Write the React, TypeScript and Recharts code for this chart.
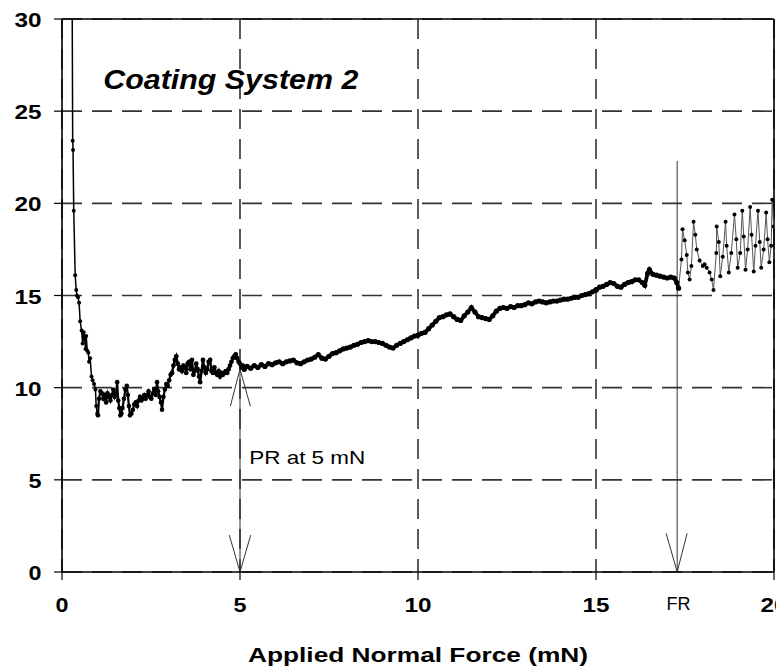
import React from 'react';
import { LineChart, Line, XAxis, YAxis, CartesianGrid, ReferenceLine, ReferenceDot } from 'recharts';

type Pt = [number, number];

const xTicks = [0, 5, 10, 15, 20];
const yTicks = [0, 5, 10, 15, 20, 25, 30];

const chartTitle = 'Coating System 2';
const xAxisTitle = 'Applied Normal Force (mN)';
const prLabel = 'PR at 5 mN';
const frLabel = 'FR';
const prForce = 5;
const prTop = 11.0;
const frForce = 17.28;
const frTop = 22.3;

const seriesRunIn: Pt[] = [
  [0.28, 34], [0.30, 23.4], [0.31, 22.9], [0.33, 19.6], [0.37, 16.1], [0.40, 15.3], [0.42, 15.0],
  [0.45, 14.9], [0.48, 14.6], [0.51, 13.6], [0.55, 13.1], [0.58, 12.4], [0.61, 13.0], [0.64, 12.6],
  [0.66, 12.1], [0.68, 12.8], [0.71, 12.0], [0.74, 11.9], [0.76, 11.4], [0.79, 11.6], [0.83, 10.6],
  [0.86, 10.4], [0.90, 10.2], [0.94, 9.9], [0.96, 9.0], [0.99, 8.6], [1.01, 8.5],
];

const seriesLow: Pt[] = [
  [1.01, 8.5], [1.04, 9.4], [1.08, 9.8], [1.12, 9.7], [1.16, 9.4], [1.20, 9.6], [1.24, 9.2], [1.28, 9.7],
  [1.32, 9.5], [1.36, 9.3], [1.40, 9.6], [1.44, 9.9], [1.48, 9.5], [1.52, 9.7], [1.55, 10.3], [1.58, 9.3],
  [1.61, 8.9], [1.64, 8.5], [1.67, 8.6], [1.70, 8.9], [1.74, 9.4], [1.78, 9.9], [1.82, 10.1], [1.85, 9.6],
  [1.88, 9.0], [1.91, 8.5], [1.95, 8.6], [1.99, 8.8], [2.03, 9.1], [2.07, 9.2], [2.11, 9.0], [2.15, 9.3],
  [2.19, 9.5], [2.23, 9.3], [2.27, 9.4], [2.31, 9.6], [2.35, 9.4], [2.39, 9.6], [2.43, 9.8], [2.47, 9.5],
  [2.51, 9.4], [2.55, 9.7], [2.59, 9.9], [2.63, 9.6], [2.67, 10.3], [2.70, 9.8], [2.74, 9.5], [2.78, 9.2],
  [2.81, 8.8], [2.85, 9.5], [2.89, 9.9], [2.93, 10.2], [2.97, 10.1], [3.01, 10.4], [3.05, 10.7], [3.09, 10.8],
];

const seriesPlateau: Pt[] = [
  [3.09, 10.8], [3.13, 11.2], [3.17, 11.5], [3.21, 11.7], [3.25, 11.3], [3.29, 11.0], [3.33, 11.1],
  [3.37, 10.9], [3.41, 11.2], [3.45, 11.1], [3.49, 10.8], [3.53, 11.3], [3.57, 11.4], [3.61, 11.0],
  [3.65, 11.5], [3.69, 10.7], [3.73, 10.9], [3.77, 11.3], [3.81, 11.0], [3.85, 10.6], [3.88, 10.3],
  [3.92, 10.9], [3.96, 11.5], [4.00, 11.1], [4.04, 10.8], [4.08, 11.0], [4.12, 11.4], [4.16, 11.5],
  [4.20, 10.9], [4.24, 10.8], [4.28, 11.1], [4.32, 10.8], [4.36, 10.7], [4.40, 10.9], [4.44, 10.6],
  [4.48, 10.8], [4.52, 10.7], [4.56, 10.8], [4.60, 10.9], [4.64, 10.8], [4.68, 11.0], [4.72, 11.2],
  [4.76, 11.4], [4.80, 11.6], [4.84, 11.7], [4.88, 11.8], [4.92, 11.6], [4.96, 11.4], [5.00, 11.3],
  [5.04, 11.1], [5.08, 11.2], [5.12, 11.0],
];

const seriesRise: Pt[] = [
  [5.12, 11.0], [5.2, 11.15], [5.3, 11.05], [5.4, 11.2], [5.5, 11.1], [5.6, 11.25], [5.7, 11.15],
  [5.8, 11.3], [5.9, 11.25], [6.0, 11.35], [6.1, 11.4], [6.2, 11.3], [6.3, 11.4], [6.4, 11.45],
  [6.5, 11.5], [6.6, 11.35], [6.7, 11.3], [6.8, 11.4], [6.9, 11.5], [7.0, 11.55], [7.1, 11.65],
  [7.2, 11.8], [7.3, 11.6], [7.4, 11.55], [7.5, 11.7], [7.6, 11.85], [7.7, 11.9], [7.8, 12.0],
  [7.9, 12.1], [8.0, 12.15], [8.1, 12.2], [8.2, 12.3], [8.3, 12.35], [8.4, 12.45], [8.5, 12.5],
  [8.6, 12.55], [8.7, 12.5], [8.8, 12.5], [8.9, 12.45], [9.0, 12.4], [9.1, 12.3], [9.2, 12.2],
  [9.3, 12.15], [9.4, 12.3], [9.5, 12.4], [9.6, 12.5], [9.7, 12.6], [9.8, 12.7], [9.9, 12.8],
  [10.0, 12.85], [10.1, 12.95], [10.2, 13.0], [10.3, 13.2], [10.4, 13.4], [10.5, 13.6], [10.6, 13.8],
  [10.7, 13.85], [10.8, 13.95], [10.9, 14.0], [11.0, 13.85], [11.1, 13.7], [11.2, 13.65], [11.3, 13.9],
  [11.4, 14.1], [11.5, 14.35], [11.6, 14.1], [11.7, 13.85], [11.8, 13.8], [11.9, 13.75], [12.0, 13.7],
  [12.1, 13.9], [12.2, 14.15], [12.3, 14.3], [12.4, 14.35], [12.5, 14.3], [12.6, 14.4], [12.7, 14.35],
  [12.8, 14.45], [12.9, 14.45], [13.0, 14.5], [13.1, 14.6], [13.2, 14.55], [13.3, 14.65], [13.4, 14.7],
  [13.5, 14.65], [13.6, 14.6], [13.7, 14.65], [13.8, 14.7], [13.9, 14.7], [14.0, 14.75], [14.1, 14.8],
  [14.2, 14.8], [14.3, 14.85], [14.4, 14.9], [14.5, 14.9], [14.6, 15.0], [14.7, 15.05], [14.8, 15.1],
  [14.9, 15.2], [15.0, 15.3],
];

const seriesPreFailure: Pt[] = [
  [15.0, 15.3], [15.1, 15.45], [15.2, 15.5], [15.3, 15.6], [15.4, 15.7], [15.5, 15.65], [15.6, 15.5],
  [15.7, 15.45], [15.8, 15.6], [15.9, 15.7], [16.0, 15.75], [16.1, 15.85], [16.2, 15.85], [16.3, 15.7],
  [16.37, 15.55], [16.45, 16.2], [16.5, 16.4], [16.6, 16.15], [16.7, 16.1], [16.8, 16.05], [16.9, 16.0],
  [17.0, 15.95], [17.1, 16.0], [17.2, 15.95], [17.27, 15.7], [17.32, 15.4],
];

const seriesFailure: Pt[] = [
  [17.32, 15.4], [17.4, 16.95], [17.43, 18.6], [17.49, 18.0], [17.55, 17.2], [17.58, 16.25], [17.63, 15.87],
  [17.68, 16.6], [17.74, 19.0], [17.79, 18.3], [17.83, 17.5], [17.91, 16.9], [18.0, 16.6], [18.05, 16.7],
  [18.11, 16.5], [18.19, 16.25], [18.25, 15.87], [18.3, 15.3], [18.38, 17.3], [18.39, 18.75], [18.45, 17.9],
  [18.49, 16.05], [18.56, 17.1], [18.64, 19.0], [18.67, 17.7], [18.73, 16.25], [18.8, 17.3], [18.89, 19.4],
  [18.94, 18.05], [18.98, 16.5], [19.05, 17.3], [19.11, 19.6], [19.15, 18.2], [19.2, 16.4], [19.26, 17.5],
  [19.33, 19.8], [19.37, 18.3], [19.43, 16.3], [19.48, 17.7], [19.55, 19.6], [19.6, 17.9], [19.64, 16.5],
  [19.71, 17.5], [19.78, 19.5], [19.82, 18.05], [19.87, 16.8], [19.92, 17.7], [19.95, 20.2], [19.99, 18.75],
];

const toPoints = (arr: Pt[]) => arr.map(([force, cof]) => ({ force, cof }));

const FONT = '"Liberation Sans", Arial, Helvetica, sans-serif';

const YTick = (props: any) => {
  const { x, y, payload } = props;
  const s = String(payload.value);
  return (
    <text x={x - 12.5} y={y + 8} textAnchor="end" fontFamily={FONT} fontWeight="bold" fontSize={20}
      textLength={s.length === 1 ? 13 : 27} lengthAdjust="spacingAndGlyphs" fill="#000">{s}</text>
  );
};

const XTick = (props: any) => {
  const { x, y, payload } = props;
  const s = String(payload.value);
  return (
    <text x={x} y={y + 32} textAnchor="middle" fontFamily={FONT} fontWeight="bold" fontSize={20}
      textLength={s.length === 1 ? 13 : 27} lengthAdjust="spacingAndGlyphs" fill="#000">{s}</text>
  );
};

const AxisTitle = (props: any) => {
  const vb = props.viewBox || {};
  return (
    <text x={vb.x + vb.width / 2} y={vb.y + 89.5} textAnchor="middle" fontFamily={FONT} fontWeight="bold"
      fontSize={21} textLength={340} lengthAdjust="spacingAndGlyphs" fill="#000">{xAxisTitle}</text>
  );
};

const makeText = (text: string, opts: { size: number; bold?: boolean; italic?: boolean; len: number }) =>
  (props: any) => {
    const vb = props.viewBox || {};
    const cx = vb.x + (vb.width || 0) / 2;
    const cy = vb.y + (vb.height || 0) / 2;
    return (
      <text x={cx} y={cy} textAnchor="start" fontFamily={FONT} fontWeight={opts.bold ? 'bold' : 'normal'}
        fontStyle={opts.italic ? 'italic' : 'normal'} fontSize={opts.size} textLength={opts.len}
        lengthAdjust="spacingAndGlyphs" fill="#000">{text}</text>
    );
  };

const arrowStroke = '#333';

export default function App() {
  return (
    <LineChart width={776} height={661} margin={{ top: 11, right: 10, left: 0, bottom: 0 }}>
      <CartesianGrid stroke="#333" strokeWidth={1.6} strokeDasharray="20 10" />
      <XAxis dataKey="force" type="number" domain={[0, 20]} ticks={xTicks} allowDataOverflow
        height={97} tickSize={8} tickMargin={0} tick={<XTick />} stroke="#000" strokeWidth={1.6}
        tickLine={{ stroke: '#000', strokeWidth: 1.2 }} label={AxisTitle} />
      <YAxis type="number" domain={[0, 30]} ticks={yTicks} allowDataOverflow width={54}
        tickSize={8} tickMargin={0} tick={<YTick />} stroke="#000" strokeWidth={1.6}
        tickLine={{ stroke: '#000', strokeWidth: 1.2 }} />
      <ReferenceLine y={30} stroke="#000" strokeWidth={1.6} />
      <ReferenceLine x={20} stroke="#000" strokeWidth={1.6} />

      <ReferenceLine segment={[{ x: prForce, y: 0 }, { x: prForce, y: prTop }]} stroke={arrowStroke} strokeWidth={1} />
      <ReferenceLine segment={[{ x: prForce, y: prTop }, { x: 4.73, y: 9.0 }]} stroke={arrowStroke} strokeWidth={1} />
      <ReferenceLine segment={[{ x: prForce, y: prTop }, { x: 5.29, y: 9.0 }]} stroke={arrowStroke} strokeWidth={1} />
      <ReferenceLine segment={[{ x: prForce, y: 0 }, { x: 4.7, y: 2.0 }]} stroke={arrowStroke} strokeWidth={1} />
      <ReferenceLine segment={[{ x: prForce, y: 0 }, { x: 5.3, y: 2.0 }]} stroke={arrowStroke} strokeWidth={1} />
      <ReferenceLine segment={[{ x: frForce, y: 0 }, { x: frForce, y: frTop }]} stroke={arrowStroke} strokeWidth={1} />
      <ReferenceLine segment={[{ x: frForce, y: 0 }, { x: 16.97, y: 2.1 }]} stroke={arrowStroke} strokeWidth={1} />
      <ReferenceLine segment={[{ x: frForce, y: 0 }, { x: 17.56, y: 2.1 }]} stroke={arrowStroke} strokeWidth={1} />

      <Line data={toPoints(seriesRunIn)} dataKey="cof" type="linear" stroke="#000" strokeWidth={1.5}
        dot={{ r: 2, fill: '#000', stroke: 'none' }} isAnimationActive={false} />
      <Line data={toPoints(seriesLow)} dataKey="cof" type="linear" stroke="#000" strokeWidth={2.2}
        dot={{ r: 2.3, fill: '#000', stroke: 'none' }} isAnimationActive={false} />
      <Line data={toPoints(seriesPlateau)} dataKey="cof" type="linear" stroke="#000" strokeWidth={2.4}
        dot={{ r: 2.4, fill: '#000', stroke: 'none' }} isAnimationActive={false} />
      <Line data={toPoints(seriesRise)} dataKey="cof" type="linear" stroke="#000" strokeWidth={3.8}
        dot={{ r: 2.6, fill: '#000', stroke: 'none' }} isAnimationActive={false} />
      <Line data={toPoints(seriesPreFailure)} dataKey="cof" type="linear" stroke="#000" strokeWidth={3.8}
        dot={{ r: 2.6, fill: '#000', stroke: 'none' }} isAnimationActive={false} />
      <Line data={toPoints(seriesFailure)} dataKey="cof" type="linear" stroke="#555" strokeWidth={1}
        dot={{ r: 2, fill: '#000', stroke: 'none' }} isAnimationActive={false} />

      <ReferenceDot x={1.16} y={26.2} r={0} fill="none" stroke="none"
        label={makeText(chartTitle, { size: 28, bold: true, italic: true, len: 255 })} />
      <ReferenceDot x={5.26} y={5.87} r={0} fill="none" stroke="none"
        label={makeText(prLabel, { size: 19, len: 116 })} />
      <ReferenceDot x={16.98} y={-2.07} r={0} fill="none" stroke="none" ifOverflow="visible"
        label={makeText(frLabel, { size: 19, bold: false, len: 24 })} />
    </LineChart>
  );
}
